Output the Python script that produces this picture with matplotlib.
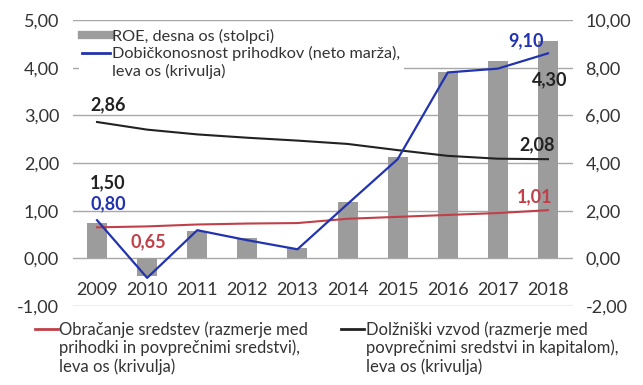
import matplotlib
matplotlib.use("Agg")
import matplotlib.pyplot as plt
from matplotlib.lines import Line2D
from matplotlib.ticker import FuncFormatter

plt.rcParams['font.family'] = ['Lato', 'DejaVu Sans']

years = ["2009", "2010", "2011", "2012", "2013", "2014", "2015", "2016", "2017", "2018"]
roe = [1.50, -0.74, 1.14, 0.85, 0.43, 2.36, 4.25, 7.82, 8.27, 9.10]          # right axis, bars
neto_marza = [0.80, -0.41, 0.59, 0.38, 0.19, 1.14, 2.08, 3.90, 3.98, 4.30]   # left axis
obracanje = [0.65, 0.67, 0.71, 0.73, 0.74, 0.83, 0.87, 0.91, 0.95, 1.01]     # left axis
vzvod = [2.86, 2.70, 2.60, 2.53, 2.47, 2.40, 2.27, 2.15, 2.09, 2.08]         # left axis

# value labels as printed on the chart: (text, x index, y on left axis, colour, ha)
value_labels = [
    ("2,86", -0.14, 3.23, "#222222", "left"),
    ("1,50", -0.14, 1.58, "#222222", "left"),
    ("0,80", -0.14, 1.15, "#2233b0", "left"),
    ("0,65", 1.02, 0.35, "#c0404a", "center"),
    ("9,10", 8.56, 4.56, "#2233b0", "center"),
    ("4,30", 9.04, 3.75, "#222222", "center"),
    ("2,08", 8.78, 2.38, "#222222", "center"),
    ("1,01", 8.74, 1.29, "#c0404a", "center"),
]

BLUE = "#2233b0"
RED = "#c0404a"
BLACK = "#222222"
GREY = "#9c9c9c"
GRID = "#a8a8a8"
TXT = "#333333"

fig = plt.figure(figsize=(6.43, 3.85), dpi=100)
ax = fig.add_axes([73/643, 79/385, 500/643, 286/385])
ax2 = ax.twinx()
ax.set_zorder(ax2.get_zorder() + 1)
ax.patch.set_visible(False)

x = list(range(len(years)))
ax2.bar(x, roe, width=0.4, color=GREY, zorder=2)
ax.plot(x, obracanje, color=RED, lw=1.5, zorder=3)
ax.plot(x, vzvod, color=BLACK, lw=1.5, zorder=3)
ax.plot(x, neto_marza, color=BLUE, lw=1.6, zorder=4)

ax.set_xlim(-0.48, 9.5)
ax.set_ylim(-1, 5)
ax2.set_ylim(-2, 10)
ax.set_yticks(range(-1, 6))
ax2.set_yticks(range(-2, 11, 2))
ax2.grid(axis='y', color=GRID, lw=1, zorder=0)
ax2.set_axisbelow(True)

fmt = FuncFormatter(lambda v, p: ("%.2f" % v).replace(".", ","))
ax.yaxis.set_major_formatter(fmt)
ax2.yaxis.set_major_formatter(fmt)
ax.set_xticks([])
for a in (ax, ax2):
    for s in a.spines.values():
        s.set_visible(False)
    a.tick_params(axis='y', length=0, labelsize=13, labelcolor=TXT)
ax.tick_params(axis='y', pad=10)
ax2.tick_params(axis='y', pad=9)

for i, yr in enumerate(years):
    ax.text(i, -0.66, yr, ha='center', va='center', fontsize=13, color=TXT)

for txt, lx, ly, col, ha in value_labels:
    ax.text(lx, ly, txt, ha=ha, va='center', fontsize=13, fontweight='bold', color=col, zorder=5)

blank = Line2D([], [], color='none')
top_handles = [Line2D([], [], color=GREY, lw=6),
               Line2D([], [], color=BLUE, lw=2),
               blank]
top_labels = ["ROE, desna os (stolpci)",
              "Dobičkonosnost prihodkov (neto marža),",
              "leva os (krivulja)"]
leg = ax.legend(top_handles, top_labels, loc='upper left', bbox_to_anchor=(0.012, 0.981),
                frameon=True, fontsize=11.7, handlelength=1.7, handletextpad=0.15,
                labelspacing=0.16, borderpad=0.2, borderaxespad=0)
leg.get_frame().set_facecolor('white')
leg.get_frame().set_edgecolor('none')
leg.get_frame().set_alpha(1)
for t in leg.get_texts():
    t.set_color(TXT)

bot_handles = [Line2D([], [], color=RED, lw=2), blank, blank,
               Line2D([], [], color=BLACK, lw=2), blank, blank]
bot_labels = ["Obračanje sredstev (razmerje med",
              "prihodki in povprečnimi sredstvi),",
              "leva os (krivulja)",
              "Dolžniški vzvod (razmerje med",
              "povprečnimi sredstvi in kapitalom),",
              "leva os (krivulja)"]
leg2 = fig.legend(bot_handles, bot_labels, loc='upper left', bbox_to_anchor=(35/643, 1 - 321/385),
                  ncol=2, frameon=False, fontsize=12, handlelength=1.35, handletextpad=0.1,
                  labelspacing=0.13, borderpad=0, borderaxespad=0, columnspacing=2.0)
for t in leg2.get_texts():
    t.set_color(TXT)

fig.savefig("out.png", dpi=100)
